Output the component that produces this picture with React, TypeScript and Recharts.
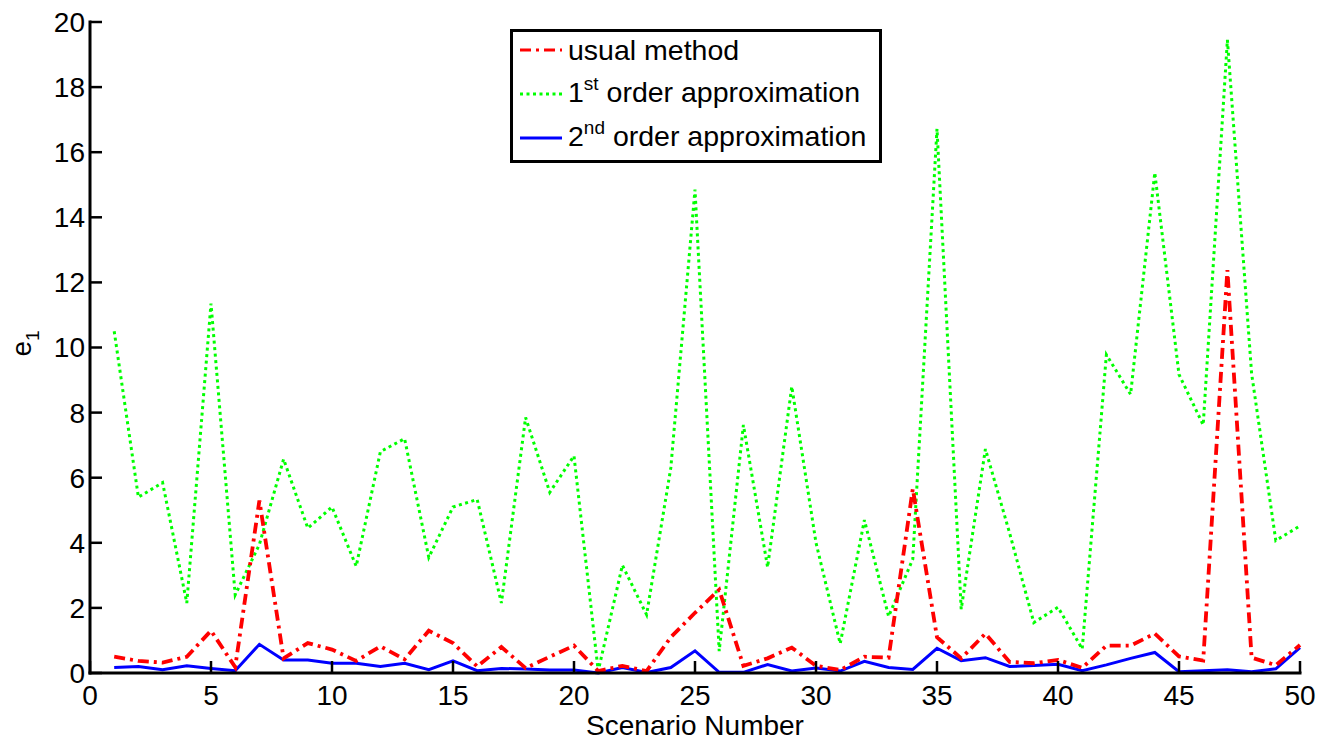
import { CartesianGrid, Legend, Line, LineChart, XAxis, YAxis } from "recharts";

const scenarios = [
  1, 2, 3, 4, 5, 6, 7, 8, 9, 10, 11, 12, 13, 14, 15, 16, 17, 18, 19, 20, 21, 22, 23, 24, 25,
  26, 27, 28, 29, 30, 31, 32, 33, 34, 35, 36, 37, 38, 39, 40, 41, 42, 43, 44, 45, 46, 47, 48, 49, 50,
];

const usualMethod = [
  0.5, 0.37, 0.32, 0.5, 1.3, 0.18, 5.3, 0.45, 0.92, 0.72, 0.37, 0.82, 0.42, 1.3, 0.92, 0.2, 0.8,
  0.15, 0.5, 0.84, 0.06, 0.22, 0.06, 1.1, 1.85, 2.56, 0.22, 0.45, 0.78, 0.22, 0.09, 0.5, 0.47, 5.66,
  1.1, 0.45, 1.21, 0.34, 0.3, 0.4, 0.16, 0.84, 0.84, 1.21, 0.51, 0.38, 12.38, 0.47, 0.24, 0.86,
];

const firstOrder = [
  10.5, 5.4, 5.85, 2.15, 11.35, 2.4, 3.95, 6.57, 4.45, 5.1, 3.28, 6.8, 7.2, 3.55, 5.1, 5.33, 2.15,
  7.85, 5.55, 6.67, 0.06, 3.31, 1.79, 6.3, 14.85, 0.67, 7.62, 3.25, 8.8, 4.0, 0.9, 4.7, 1.74, 3.5,
  16.72, 1.96, 6.88, 4.3, 1.55, 2.02, 0.74, 9.78, 8.56, 15.37, 9.17, 7.62, 19.45, 9.2, 4.07, 4.52,
];

const secondOrder = [
  0.17, 0.2, 0.1, 0.22, 0.14, 0.07, 0.88, 0.4, 0.4, 0.3, 0.3, 0.2, 0.3, 0.1, 0.37, 0.07, 0.14,
  0.12, 0.09, 0.09, 0.0, 0.17, 0.02, 0.17, 0.68, 0.02, 0.02, 0.26, 0.06, 0.15, 0.06, 0.36, 0.17,
  0.11, 0.76, 0.38, 0.47, 0.2, 0.23, 0.27, 0.07, 0.25, 0.45, 0.63, 0.04, 0.07, 0.1, 0.04, 0.13, 0.78,
];

const xTicks = [0, 5, 10, 15, 20, 25, 30, 35, 40, 45, 50];
const yTicks = [0, 2, 4, 6, 8, 10, 12, 14, 16, 18, 20];

const FONT = "'Liberation Sans', Arial, sans-serif";
const RED = "#ff0000";
const GREEN = "#00ff00";
const BLUE = "#0000ff";
const RED_DASH = "11 5 3 5";
const GREEN_DASH = "3 3.5";

const data = scenarios.map((s, i) => ({
  scenario: s,
  usual: usualMethod[i],
  first: firstOrder[i],
  second: secondOrder[i],
}));

const axisLine = { stroke: "#000", strokeWidth: 3, strokeLinecap: "square" as const };
const tickLine = { stroke: "#000", strokeWidth: 2.5 };
const tickStyle = { fontSize: 28, fill: "#000", fontFamily: FONT };

const sup = { fontSize: 19, position: "relative" as const, top: -12 };

const legendRows = [
  { color: RED, dash: RED_DASH, label: <>usual method</> },
  {
    color: GREEN,
    dash: GREEN_DASH,
    label: (
      <>
        1<span style={sup}>st</span> order approximation
      </>
    ),
  },
  {
    color: BLUE,
    dash: undefined,
    label: (
      <>
        2<span style={sup}>nd</span> order approximation
      </>
    ),
  },
];

function LegendBox() {
  return (
    <div
      style={{
        width: 372,
        height: 134,
        boxSizing: "border-box",
        border: "3px solid #000",
        background: "#fff",
        fontFamily: FONT,
        fontSize: 28.5,
        color: "#000",
        overflow: "hidden",
      }}
    >
      <div style={{ marginTop: -4 }}>
        {legendRows.map((r, i) => (
          <div key={i} style={{ height: 44, display: "flex", alignItems: "center", paddingLeft: 7 }}>
            <svg width={42} height={6} style={{ marginRight: 6, flex: "none" }}>
              <line x1={0} y1={3} x2={42} y2={3} stroke={r.color} strokeWidth={3} strokeDasharray={r.dash} />
            </svg>
            <span style={{ whiteSpace: "nowrap", lineHeight: "32px" }}>{r.label}</span>
          </div>
        ))}
      </div>
    </div>
  );
}

function YLabel(props: any) {
  const vb = props.viewBox || { x: 0, y: 22, width: 90, height: 651 };
  const cx = 31;
  const cy = vb.y + vb.height / 2 - 4;
  return (
    <text
      x={cx}
      y={cy}
      transform={`rotate(-90, ${cx}, ${cy})`}
      textAnchor="middle"
      fontSize={28}
      fontFamily={FONT}
      fill="#000"
    >
      e
      <tspan fontSize={19} dy={8}>
        1
      </tspan>
    </text>
  );
}

export default function App() {
  return (
    <div style={{ position: "absolute", left: 0, top: 0, width: 1327, height: 742, background: "#fff" }}>
      <LineChart width={1327} height={742} data={data} margin={{ top: 22, right: 27, bottom: 0, left: 0 }}>
        <CartesianGrid stroke="none" fill="#fff" />
        <XAxis
          dataKey="scenario"
          type="number"
          domain={[0, 50]}
          ticks={xTicks}
          interval={0}
          height={69}
          axisLine={axisLine}
          tickLine={tickLine}
          tickSize={-12}
          tickMargin={24}
          tick={tickStyle}
          label={{ value: "Scenario Number", position: "insideBottom", offset: 7, fontSize: 28, fill: "#000", fontFamily: FONT }}
        />
        <XAxis
          xAxisId="top"
          orientation="top"
          type="number"
          domain={[0, 50]}
          ticks={xTicks}
          interval={0}
          height={0}
          axisLine={axisLine}
          tickLine={tickLine}
          tickSize={-12}
          tickFormatter={() => ""}
        />
        <YAxis
          type="number"
          domain={[0, 20]}
          ticks={yTicks}
          interval={0}
          width={90}
          axisLine={axisLine}
          tickLine={tickLine}
          tickSize={-12}
          tickMargin={17}
          tick={tickStyle}
          label={<YLabel />}
        />
        <YAxis
          yAxisId="right"
          orientation="right"
          type="number"
          domain={[0, 20]}
          ticks={yTicks}
          interval={0}
          width={0}
          axisLine={axisLine}
          tickLine={tickLine}
          tickSize={-12}
          tickFormatter={() => ""}
        />
        <Legend
          layout="vertical"
          align="center"
          verticalAlign="middle"
          content={() => <LegendBox />}
          wrapperStyle={{ position: "absolute", left: 510, top: 29, width: 372, height: 134 }}
        />
        <Line
          type="linear"
          dataKey="second"
          stroke={BLUE}
          strokeWidth={3}
          dot={false}
          activeDot={false}
          isAnimationActive={false}
        />
        <Line
          type="linear"
          dataKey="first"
          stroke={GREEN}
          strokeWidth={3}
          strokeDasharray={GREEN_DASH}
          dot={false}
          activeDot={false}
          isAnimationActive={false}
        />
        <Line
          type="linear"
          dataKey="usual"
          stroke={RED}
          strokeWidth={3.8}
          strokeDasharray={RED_DASH}
          dot={false}
          activeDot={false}
          isAnimationActive={false}
        />
      </LineChart>
    </div>
  );
}
